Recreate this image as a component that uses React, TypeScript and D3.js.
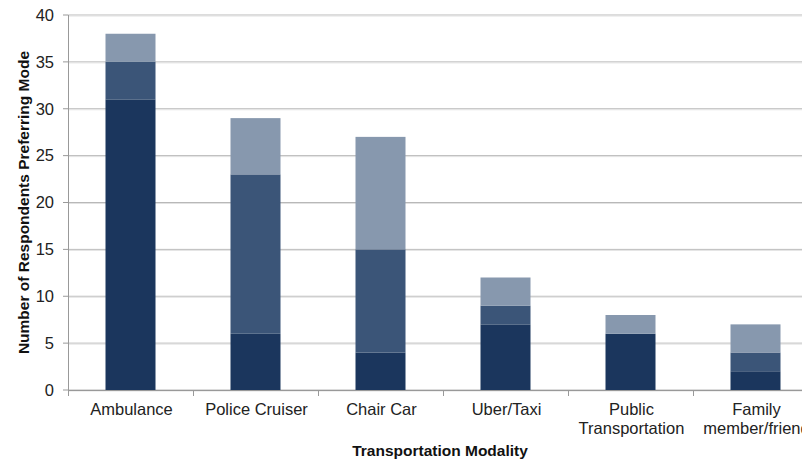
import React from "react";
import * as d3 from "d3";

// Transportation modalities and stacked respondent counts per preference level
const categories = [
  ["Ambulance"],
  ["Police Cruiser"],
  ["Chair Car"],
  ["Uber/Taxi"],
  ["Public", "Transportation"],
  ["Family", "member/friend"],
];
const firstChoice = [31, 6, 4, 7, 6, 2];
const secondChoice = [4, 17, 11, 2, 0, 2];
const thirdChoice = [3, 6, 12, 3, 2, 3];
const yTicks = [0, 5, 10, 15, 20, 25, 30, 35, 40];

const seriesColors = ["#1b365d", "#3b5578", "#8798ae"];

const W = 802;
const H = 462;
const margin = { left: 68, top: 15, bottom: 72 };
const bandWidth = 125;

export default function App() {
  const keys = ["first", "second", "third"];
  const rows = categories.map((c, i) => ({
    name: c.join(" "),
    first: firstChoice[i],
    second: secondChoice[i],
    third: thirdChoice[i],
  }));
  const stacked = d3.stack<any>().keys(keys)(rows);

  const x = d3
    .scaleBand<string>()
    .domain(rows.map((r) => r.name))
    .range([margin.left, margin.left + bandWidth * categories.length])
    .paddingInner(0.6)
    .paddingOuter(0.3);
  const y = d3.scaleLinear().domain([0, 40]).range([H - margin.bottom, margin.top]);

  const font = "'Liberation Sans', Arial, sans-serif";
  const plotRight = margin.left + bandWidth * categories.length;

  return (
    <svg
      width={W}
      height={H}
      style={{ position: "absolute", left: 0, top: 0, background: "#fff" }}
      fontFamily={font}
    >
      {/* horizontal gridlines */}
      {yTicks.map((t) => (
        <g key={t}>
          <line x1={margin.left} x2={plotRight} y1={y(t)} y2={y(t)} stroke="#b8b8b8" strokeWidth={1} />
          <line x1={margin.left} x2={plotRight} y1={y(t) + 1} y2={y(t) + 1} stroke="#e2e2e2" strokeWidth={1} />
        </g>
      ))}
      {/* stacked bars */}
      {stacked.map((layer, li) =>
        layer.map((d, i) => {
          const h = y(d[0]) - y(d[1]);
          if (h <= 0) return null;
          return (
            <rect
              key={`${li}-${i}`}
              x={x(rows[i].name)}
              y={y(d[1])}
              width={x.bandwidth()}
              height={h}
              fill={seriesColors[li]}
            />
          );
        })
      )}
      {/* y axis */}
      <line x1={margin.left + 0.5} x2={margin.left + 0.5} y1={y(40)} y2={y(0) + 5} stroke="#999" />
      {yTicks.map((t) => (
        <g key={`yt${t}`}>
          <line x1={margin.left - 5} x2={margin.left} y1={y(t)} y2={y(t)} stroke="#999" />
          <text x={54} y={y(t)} dy="0.35em" textAnchor="end" fontSize={16.5} fill="#222">
            {t}
          </text>
        </g>
      ))}
      {/* x axis */}
      <line x1={margin.left} x2={plotRight} y1={y(0) + 0.5} y2={y(0) + 0.5} stroke="#999" />
      {categories.map((c, i) => {
        const bx = margin.left + bandWidth * i;
        return (
          <g key={`xc${i}`}>
            <line x1={bx + 0.5} x2={bx + 0.5} y1={y(0)} y2={y(0) + 6} stroke="#999" />
            <text x={bx + bandWidth / 2} y={415} textAnchor="middle" fontSize={16.5} fill="#222">
              {c.map((line, j) => (
                <tspan key={j} x={bx + bandWidth / 2 + 1} dy={j === 0 ? 0 : 19}>
                  {line}
                </tspan>
              ))}
            </text>
          </g>
        );
      })}
      {/* axis titles */}
      <text
        x={440}
        y={456}
        textAnchor="middle"
        fontSize={15.5}
        fontWeight="bold"
        fill="#111"
      >
        Transportation Modality
      </text>
      <text
        transform={`translate(29, ${(y(0) + y(40)) / 2}) rotate(-90)`}
        textAnchor="middle"
        fontSize={15.5}
        fontWeight="bold"
        fill="#111"
      >
        Number of Respondents Preferring Mode
      </text>
    </svg>
  );
}
